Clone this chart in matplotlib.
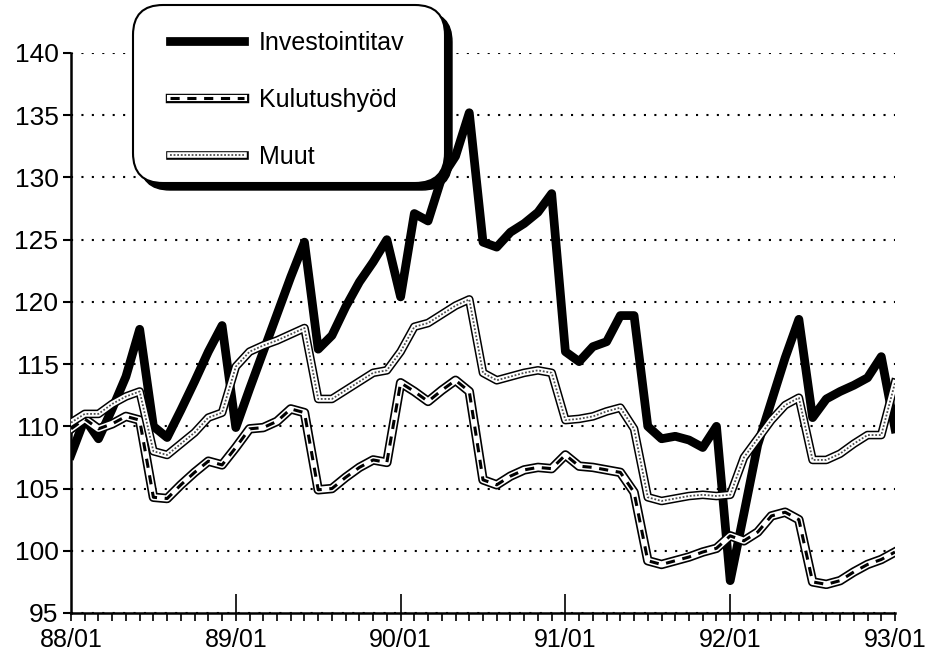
import matplotlib
matplotlib.use("Agg")
import matplotlib.pyplot as plt
import numpy as np
from matplotlib.patches import FancyBboxPatch

plt.rcParams['font.family'] = ['Liberation Sans', 'DejaVu Sans']

# monthly index 88/01 .. 93/01
months = np.arange(61)
year_ticks = [0, 12, 24, 36, 48, 60]
year_labels = ['88/01', '89/01', '90/01', '91/01', '92/01', '93/01']
y_ticks = [95, 100, 105, 110, 115, 120, 125, 130, 135, 140]

investointitav = [107.7, 110.6, 109.0, 111.4, 114.0, 117.8, 110.0, 109.1, 111.3, 113.6,
                  116.0, 118.1, 109.9, 113.0, 116.0, 119.0, 122.0, 124.8, 116.2, 117.3,
                  119.6, 121.6, 123.2, 125.0, 120.4, 127.1, 126.5, 130.0, 131.7, 135.2,
                  124.8, 124.4, 125.6, 126.3, 127.2, 128.7, 116.0, 115.2, 116.4, 116.8,
                  118.9, 118.9, 110.0, 109.0, 109.2, 108.9, 108.3, 110.0, 97.6, 103.0,
                  108.5, 112.0, 115.5, 118.6, 110.7, 112.2, 112.8, 113.3, 113.9, 115.6,
                  109.8]
kulutushyod = [109.8, 110.6, 109.8, 110.2, 110.8, 110.5, 104.3, 104.2, 105.3, 106.3,
               107.2, 106.9, 108.3, 109.8, 109.9, 110.4, 111.4, 111.1, 104.9, 105.0,
               105.9, 106.7, 107.3, 107.1, 113.5, 112.8, 112.0, 112.9, 113.7, 112.8,
               105.7, 105.3, 106.0, 106.5, 106.7, 106.6, 107.7, 106.8, 106.7, 106.5,
               106.3, 104.7, 99.2, 98.9, 99.2, 99.5, 99.9, 100.2, 101.2, 100.8,
               101.5, 102.8, 103.1, 102.5, 97.5, 97.3, 97.6, 98.3, 98.9, 99.3,
               99.9]
muut = [110.3, 111.0, 111.0, 111.8, 112.4, 112.8, 108.0, 107.7, 108.6, 109.5,
        110.7, 111.1, 114.8, 116.0, 116.5, 116.9, 117.4, 117.9, 112.2, 112.2,
        112.9, 113.6, 114.3, 114.5, 116.0, 118.0, 118.3, 119.0, 119.7, 120.2,
        114.3, 113.7, 114.0, 114.3, 114.5, 114.3, 110.5, 110.6, 110.8, 111.2,
        111.5, 109.8, 104.3, 104.0, 104.2, 104.4, 104.5, 104.4, 104.5, 107.5,
        109.0, 110.5, 111.7, 112.3, 107.3, 107.3, 107.8, 108.6, 109.3, 109.3,
        113.5]

fig = plt.figure(figsize=(9.26, 6.62), dpi=100)
ax = fig.add_axes([71 / 926, 1 - 613 / 662, (895 - 71) / 926, (613 - 53) / 662])

# black heavy line
h1, = ax.plot(months, investointitav, color='black', lw=6.3, zorder=3)

# outlined line with dashes inside
k1, = ax.plot(months, kulutushyod, color='black', lw=6.8, zorder=4)
k2, = ax.plot(months, kulutushyod, color='white', lw=4.4, zorder=4)
k3, = ax.plot(months, kulutushyod, color='black', lw=2.2, dashes=(3, 2.5), zorder=4)

# outlined line with dotted fill
m1, = ax.plot(months, muut, color='black', lw=6.2, zorder=5)
m2, = ax.plot(months, muut, color='white', lw=4.0, zorder=5)
m3, = ax.plot(months, muut, color='0.3', lw=1.3, dashes=(1, 1), zorder=5)

ax.set_xlim(0, 60)
ax.set_ylim(95, 140)
ax.set_yticks(y_ticks)
ax.set_xticks(year_ticks)
ax.set_xticklabels(year_labels)
ax.set_xticks(months, minor=True)
ax.xaxis.remove_overlapping_locs = False

ax.tick_params(axis='y', direction='out', length=6, width=1.5, labelsize=19, pad=3)
ax.tick_params(axis='x', which='major', direction='in', length=14, width=1.2,
               labelsize=18, pad=11)
ax.tick_params(axis='x', which='minor', direction='out', length=6, width=1.2)
ax.xaxis.get_major_ticks()[0].tick1line.set_visible(False)
ax.xaxis.get_major_ticks()[-1].tick1line.set_visible(False)

for s in ['top', 'right']:
    ax.spines[s].set_visible(False)
for s in ['left', 'bottom']:
    ax.spines[s].set_linewidth(1.8)

ax.yaxis.grid(True, color='black', lw=1.5, linestyle=(0, (1, 4)))
ax.set_axisbelow(True)

# legend box with heavy black shadow (inches)
box_x, box_y, box_w, box_h = 1.33, 4.79, 3.12, 1.78
shadow = FancyBboxPatch((box_x + 0.07, box_y - 0.07), box_w, box_h,
                        boxstyle='round,pad=0,rounding_size=0.3',
                        transform=fig.dpi_scale_trans, facecolor='black',
                        edgecolor='black', zorder=8)
box = FancyBboxPatch((box_x, box_y), box_w, box_h,
                     boxstyle='round,pad=0,rounding_size=0.3',
                     transform=fig.dpi_scale_trans, facecolor='white',
                     edgecolor='black', lw=1.5, zorder=9)
fig.add_artist(shadow)
fig.add_artist(box)

leg = fig.legend([h1, (k1, k2, k3), (m1, m2, m3)],
                 ['Investointitav', 'Kulutushyöd', 'Muut'],
                 loc='upper left', bbox_to_anchor=(170 / 926, 1 - 31 / 662),
                 borderaxespad=0, borderpad=0, handlelength=2.95,
                 handletextpad=0.6, labelspacing=1.32, fontsize=18,
                 frameon=False)
leg.set_zorder(10)

fig.savefig('out.png', dpi=100)
